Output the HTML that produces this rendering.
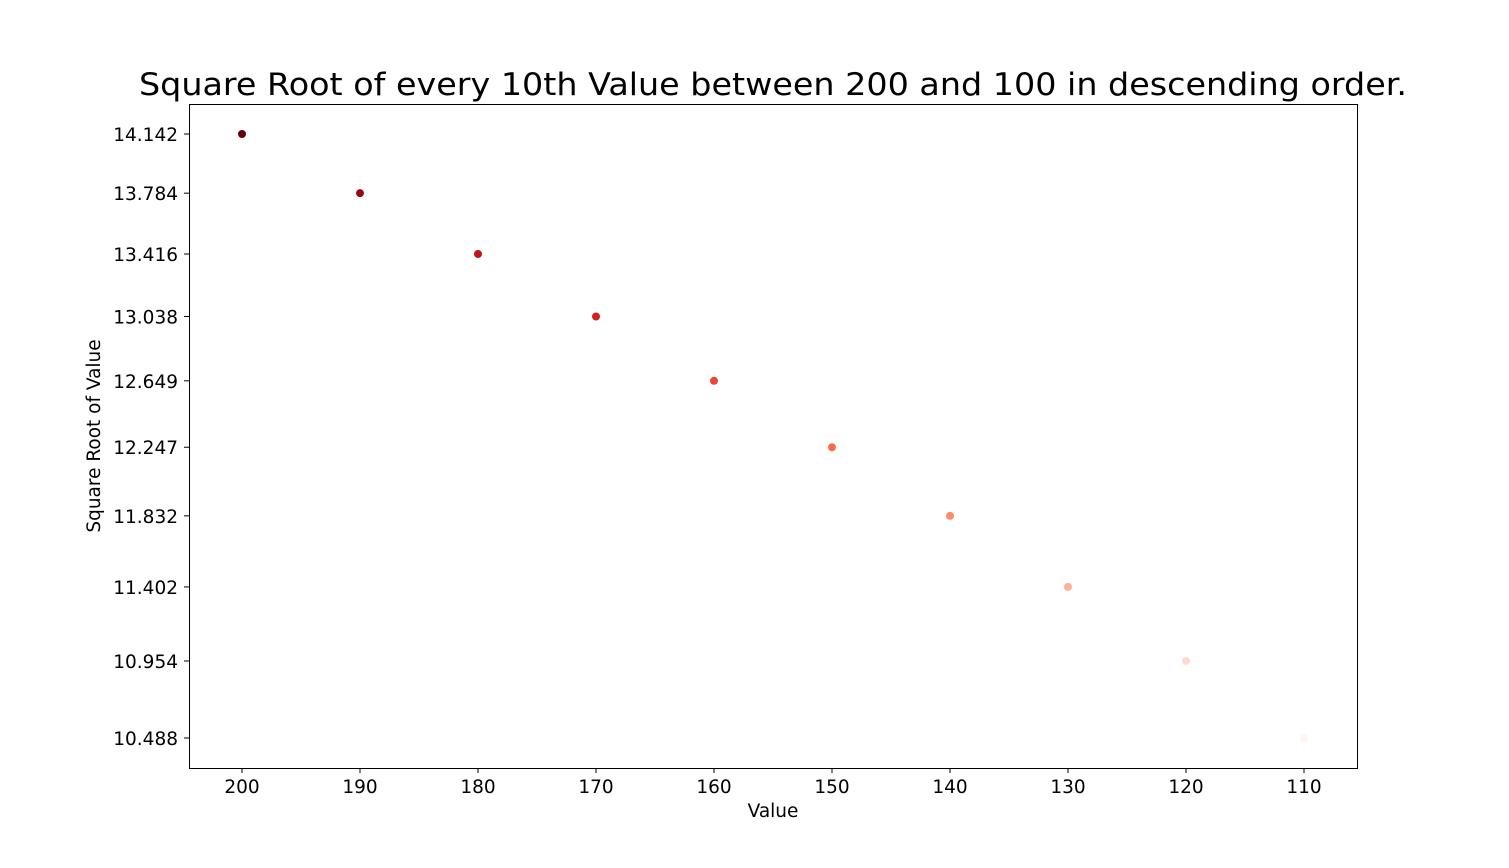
<!DOCTYPE html>
<html><head><meta charset="utf-8"><style>
body{margin:0;background:#fff;}
svg text{font-family:"DejaVu Sans","Liberation Sans",sans-serif;fill:#000;}
</style></head><body>
<svg id="chart" width="1509" height="863" xmlns="http://www.w3.org/2000/svg">
<rect x="0" y="0" width="1509" height="863" fill="#fff"/>
<text x="773" y="95" font-size="31" text-anchor="middle" textLength="1268" lengthAdjust="spacingAndGlyphs">Square Root of every 10th Value between 200 and 100 in descending order.</text>
<g id="plot"></g>
<rect x="189.5" y="104.5" width="1168" height="664" fill="none" stroke="#000" stroke-width="1"/>
<text x="773" y="817" font-size="18.5" text-anchor="middle">Value</text>
<text transform="translate(100,436) rotate(-90)" font-size="18.5" text-anchor="middle">Square Root of Value</text>
</svg>
<script>
const categories = [200,190,180,170,160,150,140,130,120,110];
const values = [14.142,13.784,13.416,13.038,12.649,12.247,11.832,11.402,10.954,10.488];
const xTicks = [200,190,180,170,160,150,140,130,120,110];
const yTickLabels = ["14.142","13.784","13.416","13.038","12.649","12.247","11.832","11.402","10.954","10.488"];
const colors = ["#67000d","#940b13","#bc141a","#d52221","#ef4533","#fb6a4a","#fc8b6b","#fcb398","#fedbcc","#fff5f0"];

const NS="http://www.w3.org/2000/svg";
const plot=document.getElementById('plot');
function xScale(v){return 242+(200-v)*11.8;}
function yScale(v){return 134+(14.142-v)*165.3;}
function mk(tag,attrs){const e=document.createElementNS(NS,tag);for(const k in attrs)e.setAttribute(k,attrs[k]);plot.appendChild(e);return e;}

xTicks.forEach(t=>{
  const x=xScale(t);
  const l=mk('line',{x1:x,x2:x,y1:768,y2:773,stroke:'#000'});
  
  
  const tx=mk('text',{x:x,y:793,'font-size':18.5,'text-anchor':'middle'});
  tx.textContent=t;
  
  
});
values.forEach((v,i)=>{
  const y=yScale(v);
  const l=mk('line',{x1:184,x2:189,y1:y,y2:y,stroke:'#000'});
  
  
  const tx=mk('text',{x:178,y:y+7,'font-size':18.5,'text-anchor':'end'});
  tx.textContent=yTickLabels[i];
  
  
});
categories.forEach((c,i)=>{
  const p=mk('circle',{cx:xScale(c),cy:yScale(values[i]),r:4,fill:colors[i]});
  
  
});
</script>
</body></html>
